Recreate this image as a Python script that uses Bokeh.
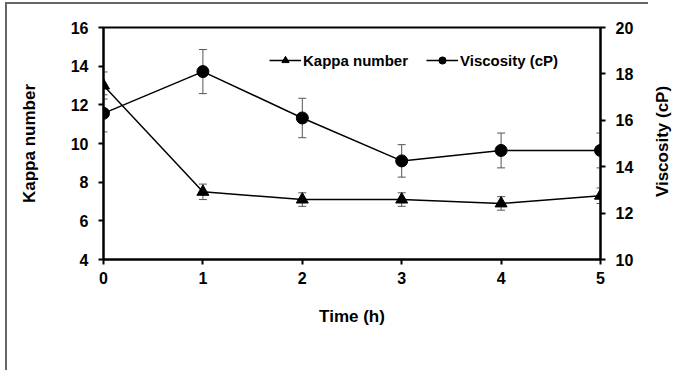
import math
from bokeh.plotting import figure
from bokeh.layouts import row
from bokeh.models import (Range1d, LinearAxis, FixedTicker, ColumnDataSource, Whisker,
                          TeeHead, Legend, LegendItem)
from bokeh.core.properties import value
from bokeh.embed import file_html
from bokeh.resources import INLINE

time_h = [0, 1, 2, 3, 4, 5]
kappa = [13.0, 7.5, 7.1, 7.1, 6.9, 7.3]
kappa_err = [0.7, 0.4, 0.35, 0.35, 0.35, 0.4]
viscosity = [16.3, 18.1, 16.1, 14.25, 14.7, 14.7]
viscosity_err = [0.8, 0.95, 0.85, 0.7, 0.75, 0.75]
x_ticks = [0, 1, 2, 3, 4, 5]
kappa_ticks = [4, 6, 8, 10, 12, 14, 16]
visc_ticks = [10, 12, 14, 16, 18, 20]
right_title = ["Viscosity (cP)"]

FONT = "Liberation Sans"
FW, FH = 495, 230

p = figure(frame_width=FW, frame_height=FH, output_backend="svg", toolbar_location=None,
           x_range=Range1d(0, 5), y_range=Range1d(4, 16),
           min_border_left=96, min_border_right=50, min_border_top=23, min_border_bottom=113)
p.extra_y_ranges = {"visc": Range1d(10, 20)}
p.grid.visible = False
p.outline_line_color = "black"
p.outline_line_width = 2
p.background_fill_color = "white"
p.border_fill_color = "white"
p.styles = {"border-top": "2px solid #666666", "border-left": "2px solid #666666",
            "margin-left": "5px", "margin-top": "2px"}

ks = ColumnDataSource(dict(x=time_h, y=kappa,
                           lo=[v - e for v, e in zip(kappa, kappa_err)],
                           hi=[v + e for v, e in zip(kappa, kappa_err)]))
vs = ColumnDataSource(dict(x=time_h, y=viscosity,
                           lo=[v - e for v, e in zip(viscosity, viscosity_err)],
                           hi=[v + e for v, e in zip(viscosity, viscosity_err)]))

for src, rng in ((ks, "default"), (vs, "visc")):
    w = Whisker(source=src, base="x", lower="lo", upper="hi", dimension="height",
                y_range_name=rng, line_color="#555555", line_width=1,
                upper_head=TeeHead(size=8, line_color="#555555", line_width=1),
                lower_head=TeeHead(size=8, line_color="#555555", line_width=1))
    p.add_layout(w)

kl = p.line("x", "y", source=ks, line_color="black", line_width=1.5)
km = p.scatter("x", "y", source=ks, marker="triangle", size=12, color="black")
vl = p.line("x", "y", source=vs, line_color="black", line_width=1.5, y_range_name="visc")
vm = p.scatter("x", "y", source=vs, marker="circle", size=12, color="black", y_range_name="visc")

right = LinearAxis(y_range_name="visc")
p.add_layout(right, "right")

p.xaxis.axis_label = "Time (h)"
p.yaxis[0].axis_label = "Kappa number"
p.xaxis.ticker = FixedTicker(ticks=x_ticks)
p.yaxis[0].ticker = FixedTicker(ticks=kappa_ticks)
right.ticker = FixedTicker(ticks=visc_ticks)

for ax in p.xaxis + p.yaxis:
    ax.axis_line_width = 2
    ax.axis_line_color = "black"
    ax.major_tick_out = 5
    ax.major_tick_in = 0
    ax.major_tick_line_width = 2
    ax.minor_tick_out = 0
    ax.minor_tick_in = 0
    ax.major_label_text_font = FONT
    ax.major_label_text_font_style = "bold"
    ax.major_label_text_font_size = "16px"
    ax.major_label_text_color = "black"
    ax.axis_label_text_font = FONT
    ax.axis_label_text_font_style = "bold"
    ax.axis_label_text_font_size = "17px"
    ax.axis_label_text_color = "black"
    ax.major_label_standoff = 10

p.xaxis.major_label_standoff = 7
p.xaxis.axis_label_standoff = 20
p.yaxis[0].axis_label_standoff = 29

legend = Legend(items=[LegendItem(label="Kappa number", renderers=[kl, km]),
                       LegendItem(label="Viscosity (cP)", renderers=[vl, vm])],
                orientation="horizontal", location=(166, 190),
                border_line_color=None, background_fill_alpha=0,
                padding=0, margin=0, spacing=18, label_standoff=2,
                glyph_width=32, glyph_height=18,
                label_text_font=FONT, label_text_font_style="bold",
                label_text_font_size="15px", label_text_color="black")
p.add_layout(legend)

# narrow companion panel holding the right-hand axis title (reads bottom-to-top)
QH = 370
q = figure(frame_width=28, frame_height=QH, output_backend="svg", toolbar_location=None,
           x_range=Range1d(0, 1), y_range=Range1d(0, QH),
           min_border_left=0, min_border_right=0, min_border_top=0, min_border_bottom=0)
q.axis.visible = False
q.grid.visible = False
q.outline_line_color = None
q.background_fill_color = "white"
q.border_fill_color = "white"
q.text(x=[0.5], y=[QH - 118], text=right_title, angle=math.pi / 2,
       text_align="center", text_baseline="middle",
       text_font=value(FONT), text_font_style="bold", text_font_size="17px",
       text_color="black")

layout = row(p, q, spacing=0)
open("out.html", "w").write(file_html(layout, INLINE))
